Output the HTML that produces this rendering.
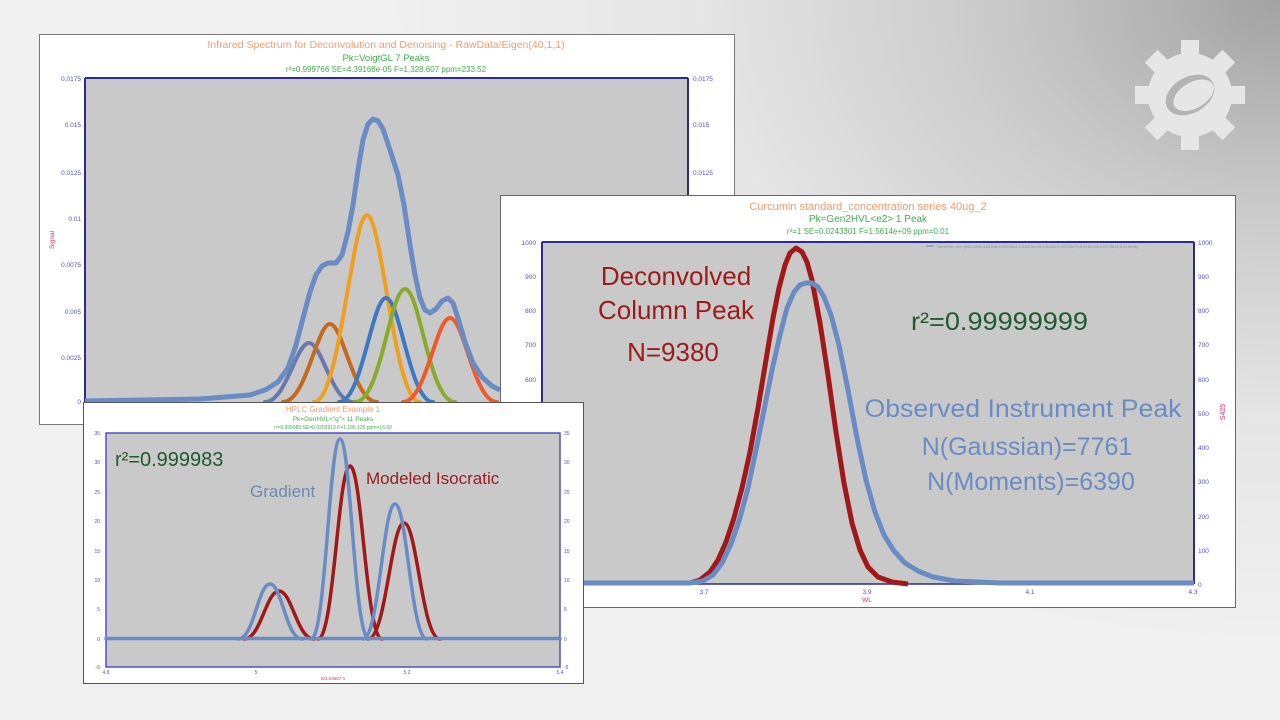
<!DOCTYPE html>
<html><head><meta charset="utf-8"><style>
html,body{margin:0;padding:0;width:1280px;height:720px;overflow:hidden}
body{background:radial-gradient(ellipse 900px 650px at 100% 0%,#a2a2a2 0%,#c8c8c8 30%,#e6e6e6 65%,#f0f0f0 100%);font-family:"Liberation Sans",sans-serif}
svg{position:absolute;left:0;top:0}
</style></head><body>
<svg width="1280" height="720" viewBox="0 0 1280 720" font-family="Liberation Sans, sans-serif">
<!-- gear -->
<g transform="translate(1190,95)" fill="#e6e6e6">
  <circle r="42"/>
  <g>
    <rect x="-9" y="-55" width="18" height="20" transform="rotate(0)"/>
    <rect x="-9" y="-55" width="18" height="20" transform="rotate(45)"/>
    <rect x="-9" y="-55" width="18" height="20" transform="rotate(90)"/>
    <rect x="-9" y="-55" width="18" height="20" transform="rotate(135)"/>
    <rect x="-9" y="-55" width="18" height="20" transform="rotate(180)"/>
    <rect x="-9" y="-55" width="18" height="20" transform="rotate(225)"/>
    <rect x="-9" y="-55" width="18" height="20" transform="rotate(270)"/>
    <rect x="-9" y="-55" width="18" height="20" transform="rotate(315)"/>
  </g>
  <ellipse rx="26" ry="18" transform="rotate(-30)" fill="#b4b4b4"/>
  <ellipse rx="22" ry="13" transform="rotate(-30) translate(3,2)" fill="#e6e6e6"/>
</g>

<!-- Panel 1 -->
<rect x="39.5" y="34.5" width="695" height="390" fill="#fff" stroke="#777"/>
<rect x="85" y="78" width="603" height="324" fill="#c9c9c9"/>
<line x1="85" y1="78" x2="688" y2="78" stroke="#2a2a9a" stroke-width="2"/>
<line x1="85" y1="78" x2="85" y2="402" stroke="#2a2a9a" stroke-width="2"/>
<line x1="688" y1="78" x2="688" y2="402" stroke="#2a2a9a" stroke-width="2"/>
<g font-size="6.5" fill="#5050d0" text-anchor="end">
<text x="81" y="81">0.0175</text><text x="81" y="127">0.015</text><text x="81" y="175">0.0125</text><text x="81" y="221">0.01</text><text x="81" y="267">0.0075</text><text x="81" y="314">0.005</text><text x="81" y="360">0.0025</text><text x="81" y="404">0</text>
</g>
<g font-size="6.5" fill="#5050d0">
<text x="693" y="81">0.0175</text><text x="693" y="127">0.015</text><text x="693" y="175">0.0125</text>
</g>
<text x="54" y="240" font-size="6.5" fill="#e0306a" transform="rotate(-90 54 240)" text-anchor="middle">Signal</text>
<text x="386" y="48" font-size="10.5" fill="#f59a6a" text-anchor="middle">Infrared Spectrum for Deconvolution and Denoising - RawData!Eigen(40,1,1)</text>
<text x="386" y="61" font-size="9.5" fill="#3cb04a" text-anchor="middle">Pk=VoigtGL  7 Peaks</text>
<text x="386" y="72" font-size="8" fill="#3cb04a" text-anchor="middle">r²=0.999766  SE=4.39168e-05  F=1,328.607  ppm=233.52</text>
<g fill="none" stroke-width="4" stroke-linecap="round">
<path stroke="#6a78b0" d="M265,402 C286,402 296,343 309,343 C322,343 332,402 353,402"/>
<path stroke="#c46a1e" d="M283,402 C306,402 317,324 330,324 C343,324 354,402 377,402"/>
<path stroke="#f0a020" d="M314,402 C340,402 352,215 367,215 C382,215 394,402 420,402"/>
<path stroke="#3d78c4" d="M339,402 C362,402 372,298 386,298 C400,298 410,402 433,402"/>
<path stroke="#8aab2a" d="M355,402 C381,402 390,289 405,289 C420,289 429,402 455,402"/>
<path stroke="#f05a28" d="M403,402 C426,402 436,318 450,318 C464,318 474,402 497,402"/>
</g>
<polyline fill="none" stroke="#6a8cc4" stroke-width="5" stroke-linejoin="round" points="85,401 200,399 250,395 265,390 278,382 288,368 296,345 303,318 310,292 316,275 322,266 328,263 336,263 342,255 348,232 353,205 358,170 363,140 368,124 373,119 378,121 383,129 390,150 398,175 404,205 410,245 415,275 420,298 425,310 430,313 436,309 442,301 448,298 453,303 458,318 465,342 473,363 482,377 492,386 500,390"/>

<!-- Panel 2 -->
<rect x="500.5" y="195.5" width="735" height="412" fill="#fff" stroke="#666"/>
<rect x="542" y="242" width="652" height="342" fill="#c9c9c9"/>
<line x1="542" y1="242" x2="1194" y2="242" stroke="#2a2a9a" stroke-width="2"/>
<line x1="542" y1="242" x2="542" y2="584" stroke="#2a2a9a" stroke-width="2"/>
<line x1="1194" y1="242" x2="1194" y2="584" stroke="#2a2a9a" stroke-width="2"/>
<line x1="542" y1="584" x2="1194" y2="584" stroke="#2a2a9a" stroke-width="1.5"/>
<g font-size="6.5" fill="#5050d0" text-anchor="end">
<text x="536" y="245">1000</text><text x="536" y="279">900</text><text x="536" y="313">800</text><text x="536" y="347">700</text><text x="536" y="382">600</text>
</g>
<g font-size="6.5" fill="#5050d0">
<text x="1198" y="245">1000</text><text x="1198" y="279">900</text><text x="1198" y="313">800</text><text x="1198" y="347">700</text><text x="1198" y="382">600</text><text x="1198" y="416">500</text><text x="1198" y="450">400</text><text x="1198" y="484">300</text><text x="1198" y="519">200</text><text x="1198" y="553">100</text><text x="1198" y="587">0</text>
</g>
<g font-size="6.5" fill="#5050d0" text-anchor="middle">
<text x="704" y="594">3.7</text><text x="867" y="594">3.9</text><text x="1030" y="594">4.1</text><text x="1193" y="594">4.3</text>
</g>
<text x="867" y="602" font-size="6.5" fill="#e0306a" text-anchor="middle">WL</text>
<text x="1225" y="412" font-size="7" fill="#e0306a" transform="rotate(-90 1225 412)" text-anchor="middle">S425</text>
<text x="868" y="210" font-size="11" fill="#f59a6a" text-anchor="middle">Curcumin standard_concentration series 40ug_2</text>
<text x="868" y="222" font-size="10" fill="#3cb04a" text-anchor="middle">Pk=Gen2HVL&lt;e2&gt;  1 Peak</text>
<text x="868" y="234" font-size="8" fill="#3cb04a" text-anchor="middle">r²=1  SE=0.0243301  F=1.5614e+09  ppm=0.01</text>
<line x1="926" y1="246" x2="934" y2="246" stroke="#6a8cc4"/>
<text x="937" y="248" font-size="4" fill="#8090c0">Gen2HVL&lt;e2&gt;(945.0286,3.81598,0.0292844,3.81073e-05,0.00283,0.00733074,0.0160438,0.0078674,0.919818)</text>
<polyline fill="none" stroke="#a01818" stroke-width="5" stroke-linejoin="round" points="690,583 700,580 710,572 718,560 726,542 734,518 742,488 750,452 758,408 766,360 773,318 779,288 785,265 790,253 796,248 802,252 807,262 812,280 820,323 828,375 836,432 844,483 852,523 860,550 868,567 878,577 892,582 908,584"/>
<polyline fill="none" stroke="#6a8cc4" stroke-width="5" stroke-linejoin="round" points="542,583 690,583 703,581 713,575 722,563 731,544 740,518 748,488 756,450 764,410 772,370 780,335 787,308 794,292 800,285 806,283 812,283 818,287 824,297 831,315 839,345 848,390 857,438 866,480 875,512 884,535 894,551 905,563 918,571 933,577 955,581 1000,583 1194,583"/>
<g font-size="26" fill="#9b1b1b" text-anchor="middle">
<text x="676" y="285">Deconvolved</text>
<text x="676" y="319">Column Peak</text>
<text x="673" y="361">N=9380</text>
</g>
<text x="911" y="330" font-size="25" fill="#1e5a2e" textLength="177" lengthAdjust="spacingAndGlyphs">r²=0.99999999</text>
<g font-size="25" fill="#6a8cc4" text-anchor="middle">
<text x="1023" y="417" textLength="317" lengthAdjust="spacingAndGlyphs">Observed Instrument Peak</text>
<text x="1027" y="455">N(Gaussian)=7761</text>
<text x="1031" y="490">N(Moments)=6390</text>
</g>

<!-- Panel 3 -->
<rect x="83.5" y="402.5" width="500" height="281" fill="#fff" stroke="#555"/>
<rect x="106" y="433" width="454" height="234" fill="#c9c9c9"/>
<rect x="106" y="433" width="454" height="234" fill="none" stroke="#5050c8" stroke-width="1.5"/>
<g font-size="5" fill="#5050d0" text-anchor="end">
<text x="100" y="435">35</text><text x="100" y="464">30</text><text x="100" y="494">25</text><text x="100" y="523">20</text><text x="100" y="553">15</text><text x="100" y="582">10</text><text x="100" y="611">5</text><text x="100" y="641">0</text><text x="100" y="669">-5</text>
</g>
<g font-size="5" fill="#5050d0">
<text x="564" y="435">35</text><text x="564" y="464">30</text><text x="564" y="494">25</text><text x="564" y="523">20</text><text x="564" y="553">15</text><text x="564" y="582">10</text><text x="564" y="611">5</text><text x="564" y="641">0</text><text x="564" y="669">-5</text>
</g>
<g font-size="5" fill="#5050d0" text-anchor="middle">
<text x="106" y="674">4.8</text><text x="256" y="674">5</text><text x="407" y="674">5.2</text><text x="560" y="674">5.4</text>
</g>
<text x="333" y="680" font-size="4.5" fill="#e0306a" text-anchor="middle">X/1.04667-1</text>
<text x="333" y="412" font-size="8" fill="#f59a6a" text-anchor="middle">HPLC Gradient Example 1</text>
<text x="333" y="421" font-size="6.5" fill="#3cb04a" text-anchor="middle">Pk=GenHVL&lt;"g"&gt;  11 Peaks</text>
<text x="333" y="429" font-size="5" fill="#3cb04a" text-anchor="middle">r²=0.999983  SE=0.0203913  F=1,186.126  ppm=16.60</text>
<g fill="none" stroke-width="3.5" stroke-linecap="round">
<path stroke="#a01818" d="M244,639 C261,639 266,591 279,591 C292,591 297,639 314,639"/>
<path stroke="#a01818" d="M318,639 C334,639 338,466 350,466 C362,466 366,639 382,639"/>
<path stroke="#a01818" d="M368,639 C386,639 391,523 404,523 C417,523 422,639 440,639"/>
<line stroke="#6a8cc4" x1="106" y1="638.5" x2="560" y2="638.5"/>
<path stroke="#6a8cc4" d="M238,639 C254,639 258,584 270,584 C282,584 286,639 302,639"/>
<path stroke="#6a8cc4" d="M311,639 C326,639 329,439 340,439 C351,439 354,639 369,639"/>
<path stroke="#6a8cc4" d="M363,639 C379,639 383,504 395,504 C407,504 411,639 427,639"/>
</g>
<text x="115" y="466" font-size="20" fill="#1e5a2e">r²=0.999983</text>
<text x="250" y="497" font-size="17" fill="#6a8cb0">Gradient</text>
<text x="366" y="484" font-size="17" fill="#9b1b1b">Modeled Isocratic</text>
</svg>
</body></html>
